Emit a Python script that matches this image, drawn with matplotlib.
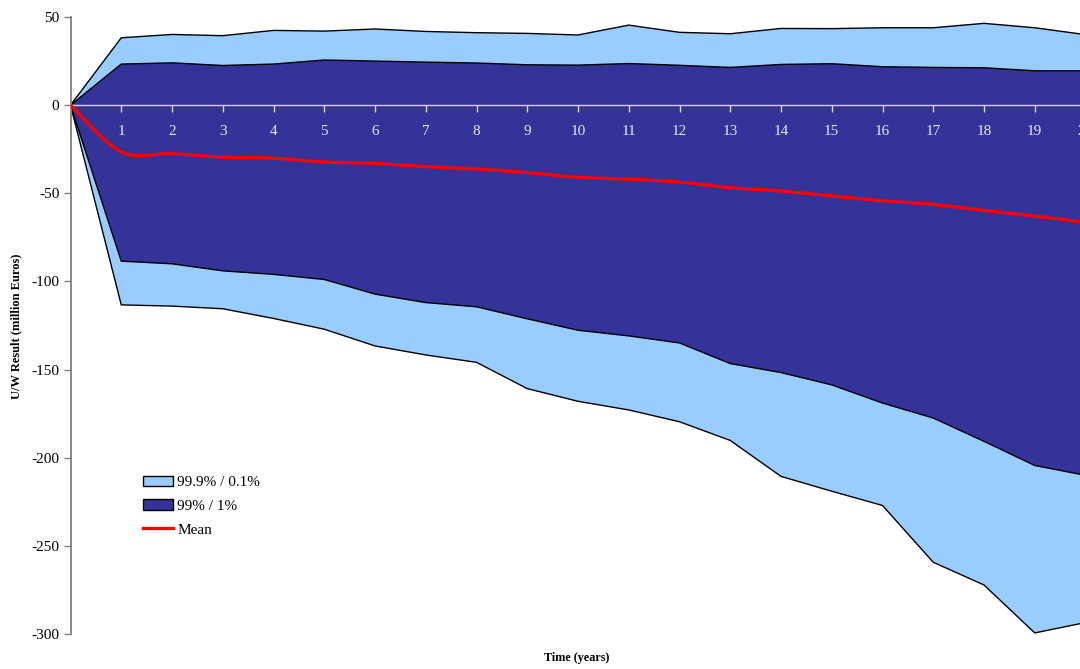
import numpy as np
import matplotlib
matplotlib.use("Agg")
import matplotlib.pyplot as plt
from matplotlib.path import Path
from matplotlib.patches import PathPatch, Patch
from matplotlib.lines import Line2D

plt.rcParams["axes.unicode_minus"] = False

# anni di proiezione
years = list(range(0, 21))

# percentili del risultato U/W (milioni di euro)
p999 = [0, 38.2, 40.1, 39.4, 42.4, 42.0, 43.2, 41.8, 41.1, 40.7, 39.8,
        45.4, 41.3, 40.5, 43.5, 43.4, 43.9, 43.9, 46.4, 43.9, 40.0]
p99 = [0, 23.3, 24.0, 22.5, 23.3, 25.6, 25.0, 24.4, 23.9, 22.9, 22.7,
       23.6, 22.6, 21.4, 23.1, 23.5, 21.8, 21.4, 21.2, 19.5, 19.5]
mean = [0, -26.5, -27.5, -29.5, -30.1, -32.2, -33.0, -34.9, -36.2, -38.3, -40.9,
        -42.0, -43.6, -46.8, -48.7, -51.5, -54.2, -56.3, -59.7, -62.9, -66.5]
p1 = [0, -88.5, -90.0, -94.0, -96.0, -98.9, -107.2, -112.0, -114.4, -121.2, -127.7,
      -130.9, -134.9, -146.6, -151.7, -158.7, -169.0, -177.5, -190.7, -204.4, -210.0]
p01 = [0, -113.3, -114.0, -115.5, -121.0, -127.1, -136.6, -141.7, -145.9, -160.8, -168.0,
       -172.9, -179.6, -190.2, -210.6, -219.0, -227.1, -259.3, -272.2, -299.4, -293.5]

LIGHT = "#99CCFF"
DARK = "#333399"
SERIF = ["Liberation Serif", "DejaVu Serif"]


def smooth_path(x, y):
    # curva liscia stile Excel (Bezier alla Catmull-Rom)
    n = len(x)
    verts = [(x[0], y[0])]
    codes = [Path.MOVETO]
    for i in range(n - 1):
        a = max(i - 1, 0)
        b = min(i + 2, n - 1)
        c1 = (x[i] + (x[i + 1] - x[a]) / 6, y[i] + (y[i + 1] - y[a]) / 6)
        c2 = (x[i + 1] - (x[b] - x[i]) / 6, y[i + 1] - (y[b] - y[i]) / 6)
        verts += [c1, c2, (x[i + 1], y[i + 1])]
        codes += [Path.CURVE4] * 3
    return Path(verts, codes)


fig = plt.figure(figsize=(10.8, 6.69), dpi=100)
W, H = 1080, 669
left, right, top, bottom = 70.5, 1085.5, 17, 634
ax = fig.add_axes([left / W, 1 - bottom / H, (right - left) / W, (bottom - top) / H])
ax.set_xlim(0, 20)
ax.set_ylim(-300, 50)

ax.fill_between(years, p01, p999, facecolor=LIGHT, edgecolor="none", zorder=1)
ax.fill_between(years, p1, p99, facecolor=DARK, edgecolor="none", zorder=1.1)
for s in (p999, p99, p1, p01):
    ax.plot(years, s, color="black", lw=1.0, zorder=2)

ax.add_patch(PathPatch(smooth_path(years, mean), facecolor="none",
                       edgecolor="#FF0000", lw=2.4, zorder=3))

# asse x sullo zero, etichette chiare dentro l'area
for side in ("top", "right"):
    ax.spines[side].set_visible(False)
ax.spines["bottom"].set_position(("data", 0))
ax.spines["bottom"].set_color("#D8D8D8")
ax.spines["bottom"].set_linewidth(1.0)
ax.spines["bottom"].set_zorder(2.6)
ax.spines["left"].set_color("#808080")
ax.spines["left"].set_linewidth(1.3)
ax.xaxis.set_zorder(2.6)

ax.set_xticks(range(1, 21))
ax.set_xticklabels([str(i) for i in range(1, 21)])
ax.tick_params(axis="x", direction="out", length=5, width=1, color="#D8D8D8",
               labelcolor="#E8E8F0", pad=9, labelsize=11)
ax.set_yticks(range(-300, 51, 50))
ax.tick_params(axis="y", direction="out", length=5, width=1, color="#808080",
               labelsize=11, pad=3)
for lbl in ax.get_xticklabels() + ax.get_yticklabels():
    lbl.set_fontfamily(SERIF)

fig.text(16 / W, 1 - 326 / H, "U/W Result (million Euros)", rotation=90,
         ha="center", va="center", fontsize=9, fontweight="bold", family=SERIF)
fig.text(577 / W, 1 - 658 / H, "Time (years)", ha="center", va="center",
         fontsize=8.7, fontweight="bold", family=SERIF)

handles = [Patch(facecolor=LIGHT, edgecolor="black", lw=1),
           Patch(facecolor=DARK, edgecolor="black", lw=1),
           Line2D([], [], color="#FF0000", lw=2.4)]
fig.legend(handles, ["99.9% / 0.1%", "99% / 1%", "Mean"],
           loc="upper left", bbox_to_anchor=(132 / W, 1 - 465 / H),
           frameon=False, prop={"family": SERIF, "size": 11},
           handlelength=2.0, handleheight=0.7, handletextpad=0.25,
           labelspacing=0.65, borderpad=0.2)

fig.savefig("out.png", dpi=100)
